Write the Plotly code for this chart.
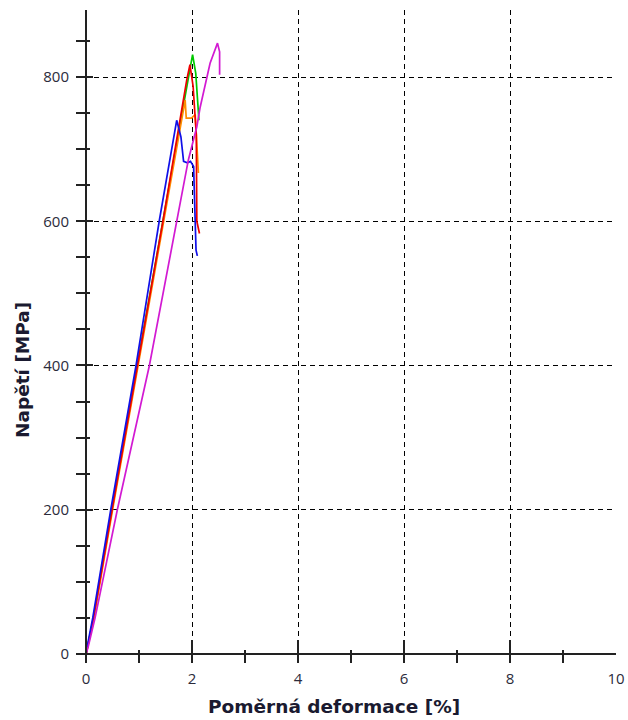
import plotly.graph_objects as go

# ---- data ----
blue_x = [0, 0.02, 0.126, 0.466, 0.943, 1.38, 1.71, 1.79, 1.84, 1.91, 1.97, 2.03, 2.04, 2.075, 2.10]
blue_y = [0, 10, 50, 200, 400, 600, 740, 717, 683, 681, 683, 676, 648, 560, 552]

green_x = [0, 0.03, 0.14, 0.48, 0.97, 1.45, 1.80, 2.01, 2.07, 2.12, 2.13]
green_y = [0, 10, 50, 200, 400, 600, 745, 831, 805, 760, 740]

orange_x = [0, 0.03, 0.15, 0.50, 0.98, 1.46, 1.87, 1.89, 1.99, 2.06, 2.12]
orange_y = [0, 10, 50, 200, 400, 600, 768, 743, 743, 748, 667]

red_x = [0, 0.03, 0.14, 0.49, 0.97, 1.45, 1.90, 1.96, 2.02, 2.08, 2.09, 2.14]
red_y = [0, 10, 50, 200, 400, 600, 796, 817, 787, 720, 600, 583]

magenta_x = [0, 0.04, 0.17, 0.59, 1.195, 1.55, 1.93, 2.09, 2.15, 2.34, 2.48, 2.52, 2.52]
magenta_y = [0, 10, 50, 200, 400, 540, 685, 731, 757, 819, 847, 835, 803]

x_ticks = [0, 2, 4, 6, 8, 10]
y_ticks = [0, 200, 400, 600, 800]

x_title = "Poměrná deformace [%]"
y_title = "Napětí [MPa]"

series = [
    (green_x, green_y, "#00c800"),
    (orange_x, orange_y, "#ff8c00"),
    (red_x, red_y, "#ee0000"),
    (blue_x, blue_y, "#1010e8"),
    (magenta_x, magenta_y, "#d21ad2"),
]

W, H = 628, 720
L, R, T, B = 76, 12, 10, 57

fig = go.Figure()
for xs, ys, c in series:
    fig.add_trace(go.Scatter(x=xs, y=ys, mode="lines", line=dict(color=c, width=1.7),
                             showlegend=False, hoverinfo="skip"))

tick_font = dict(family="Open Sans, DejaVu Sans, sans-serif", size=15, color="#2b2b3b")
title_font = dict(family="DejaVu Sans, Open Sans, sans-serif", size=18.5, color="#1a1a30")

fig.update_layout(
    width=W, height=H,
    margin=dict(l=L, r=R, t=T, b=B, pad=0),
    paper_bgcolor="white", plot_bgcolor="white",
    xaxis=dict(
        range=[-0.19, 10], tickvals=x_ticks, ticktext=[str(v) for v in x_ticks],
        ticks="inside", ticklen=23, tickwidth=2, tickcolor="#222222",
        minor=dict(dtick=1, tick0=0, ticks="inside", ticklen=13, tickwidth=2,
                   tickcolor="#222222", showgrid=False),
        showgrid=True, gridcolor="#000000", gridwidth=1.2, griddash="5px,4px",
        zeroline=True, zerolinecolor="#222222", zerolinewidth=2,
        showline=False, tickfont=tick_font, fixedrange=True, automargin=False,
        ticklabelstandoff=5,
    ),
    yaxis=dict(
        range=[-12.5, 892.9], tickvals=y_ticks, ticktext=[str(v) for v in y_ticks],
        ticks="inside", ticklen=17, tickwidth=2, tickcolor="#222222",
        minor=dict(dtick=50, tick0=0, ticks="inside", ticklen=14, tickwidth=2,
                   tickcolor="#222222", showgrid=False),
        showgrid=True, gridcolor="#000000", gridwidth=1.2, griddash="5px,4px",
        zeroline=True, zerolinecolor="#222222", zerolinewidth=2,
        showline=False, tickfont=tick_font, ticklabelstandoff=6, fixedrange=True,
        automargin=False,
    ),
)

pw = W - L - R
ph = H - T - B
def px_to_paper_x(px):
    return (px - L) / pw
def px_to_paper_y(py):
    return (H - B - py) / ph

fig.add_annotation(text="<b>" + x_title + "</b>", xref="paper", yref="paper",
                   x=px_to_paper_x(334), y=px_to_paper_y(707), showarrow=False,
                   xanchor="center", yanchor="middle", font=title_font)
fig.add_annotation(text="<b>" + y_title + "</b>", xref="paper", yref="paper",
                   x=px_to_paper_x(22), y=px_to_paper_y(370), showarrow=False,
                   textangle=-90, xanchor="center", yanchor="middle", font=title_font)

fig.write_html("out.html", config={"displayModeBar": False},
               post_script="document.body.style.margin='0';")
